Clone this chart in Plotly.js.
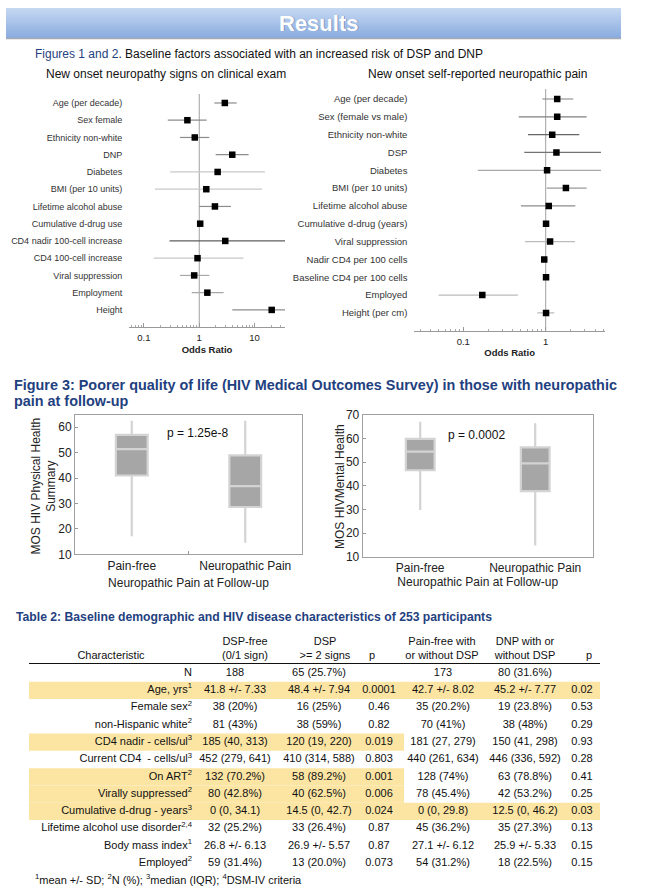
<!DOCTYPE html>
<html><head><meta charset="utf-8">
<script src="https://cdn.plot.ly/plotly-3.0.1.min.js"></script>
<style>html,body{margin:0;padding:0;background:#fff}#chart{width:650px;height:892px}</style>
</head><body><div id="chart"></div>
<script>
// ---------- Figure 1: new onset neuropathy signs (DSP) ----------
const dspFactors = ['Age (per decade)','Sex female','Ethnicity non-white','DNP','Diabetes','BMI (per 10 units)','Lifetime alcohol abuse','Cumulative d-drug use','CD4 nadir 100-cell increase','CD4 100-cell increase','Viral suppression','Employment','Height'];
const dspOR = [2.9, 0.61, 0.83, 3.95, 2.15, 1.34, 1.92, 1.04, 2.95, 0.93, 0.81, 1.40, 20.4];
const dspLo = [1.87, 0.27, 0.45, 1.98, 0.30, 0.158, 1.0, 1.02, 0.29, 0.15, 0.45, 0.73, 3.95];
const dspHi = [4.74, 1.36, 1.52, 7.8, 15.4, 13.6, 3.74, 1.06, 40, 6.3, 1.52, 2.76, 40];

// ---------- Figure 2: new onset self-reported neuropathic pain (DNP) ----------
const dnpFactors = ['Age (per decade)','Sex (female vs male)','Ethnicity non-white','DSP','Diabetes','BMI (per 10 units)','Lifetime alcohol abuse','Cumulative d-drug (years)','Viral suppression','Nadir CD4 per 100 cells','Baseline CD4 per 100 cells','Employed','Height (per cm)'];
const dnpOR = [1.38, 1.38, 1.20, 1.35, 1.04, 1.76, 1.09, 1.01, 1.13, 0.96, 1.01, 0.17, 1.01];
const dnpLo = [0.91, 0.47, 0.61, 0.55, 0.15, 1.03, 0.50, 1.00, 0.56, 0.92, 0.95, 0.05, 0.79];
const dnpHi = [2.16, 3.14, 2.56, 4.69, 4.69, 3.14, 2.29, 1.02, 2.27, 1.05, 1.07, 0.46, 1.27];

// ---------- Figure 3: MOS-HIV box plots ----------
const painGroups = ['Pain-free', 'Neuropathic Pain'];
const physLow = [17.1, 14.5], physQ1 = [41.0, 28.6], physMed = [51.4, 36.8], physQ3 = [57.0, 48.9], physHigh = [62.5, 62.5];
const mentLow = [29.8, 14.7], mentQ1 = [46.6, 37.8], mentMed = [54.5, 49.5], mentQ3 = [59.9, 56.3], mentHigh = [67.1, 66.5];
const physP = 'p = 1.25e-8';
const mentP = 'p = 0.0002';

// ---------- Table 2 ----------
const tableRows = ['N','Age, yrs<sup>1</sup>','Female sex<sup>2</sup>','non-Hispanic white<sup>2</sup>','CD4 nadir - cells/ul<sup>3</sup>','Current CD4  - cells/ul<sup>3</sup>','On ART<sup>2</sup>','Virally suppressed<sup>2</sup>','Cumulative d-drug - years<sup>3</sup>','Lifetime alcohol use disorder<sup>2,4</sup>','Body mass index<sup>1</sup>','Employed<sup>2</sup>'];
const colDspFree = ['188','41.8 +/- 7.33','38 (20%)','81 (43%)','185 (40, 313)','452 (279, 641)','132 (70.2%)','80 (42.8%)','0 (0, 34.1)','32 (25.2%)','26.8 +/- 6.13','59 (31.4%)'];
const colDsp = ['65 (25.7%)','48.4 +/- 7.94','16 (25%)','38 (59%)','120 (19, 220)','410 (314, 588)','58 (89.2%)','40 (62.5%)','14.5 (0, 42.7)','33 (26.4%)','26.9 +/- 5.57','13 (20.0%)'];
const colP1 = ['','0.0001','0.46','0.82','0.019','0.803','0.001','0.006','0.024','0.87','0.87','0.073'];
const colPainFree = ['173','42.7 +/- 8.02','35 (20.2%)','70 (41%)','181 (27, 279)','440 (261, 634)','128 (74%)','78 (45.4%)','0 (0, 29.8)','45 (36.2%)','27.1 +/- 6.12','54 (31.2%)'];
const colDnp = ['80 (31.6%)','45.2 +/- 7.77','19 (23.8%)','38 (48%)','150 (41, 298)','446 (336, 592)','63 (78.8%)','42 (53.2%)','12.5 (0, 46.2)','35 (27.3%)','25.9 +/- 5.33','18 (22.5%)'];
const colP2 = ['','0.02','0.53','0.29','0.93','0.28','0.41','0.25','0.03','0.13','0.15','0.15'];
const headTop = ['', 'DSP-free', 'DSP', '', 'Pain-free with', 'DNP with or', ''];
const headBottom = ['Characteristic', '(0/1 sign)', '>= 2 signs', 'p', 'or without DSP', 'without DSP', 'p'];

// ================= styling / layout =================
const W = 650, H = 892;
const X = px => px / W;
const Y = py => 1 - py / H;
const FONT = 'Liberation Sans, Arial, Helvetica, sans-serif';
const NAVY = '#1f4180';
const dspShades = ['#8c8c8c','#8c8c8c','#8c8c8c','#8c8c8c','#c8c8c8','#c8c8c8','#8c8c8c','#8c8c8c','#5e5e5e','#c8c8c8','#a8a8a8','#a8a8a8','#8c8c8c'];
const dnpShades = ['#808080','#808080','#666666','#737373','#a8a8a8','#999999','#8c8c8c','#888888','#bbbbbb','#bbbbbb','#bbbbbb','#bbbbbb','#bbbbbb'];

function forestTraces(labels, or, lo, hi, shades, xa, ya) {
  return labels.map((lab, i) => ({
    type: 'scatter', mode: 'markers', x: [or[i]], y: [lab], xaxis: xa, yaxis: ya,
    marker: {symbol: 'square', size: 6.5, color: '#000'},
    error_x: {type: 'data', symmetric: false, array: [hi[i] - or[i]], arrayminus: [or[i] - lo[i]],
              color: shades[i], thickness: 1.2, width: 0},
    hoverinfo: 'skip', showlegend: false
  }));
}
function minorLog(kFrom, kTo) {
  const v = [];
  for (let k = kFrom; k <= kTo; k++) for (let d = 2; d <= 9; d++) v.push(Number((d * Math.pow(10, k)).toPrecision(3)));
  return v;
}

const traces = [];
traces.push(...forestTraces(dspFactors, dspOR, dspLo, dspHi, dspShades, 'x', 'y'));
traces.push(...forestTraces(dnpFactors, dnpOR, dnpLo, dnpHi, dnpShades, 'x2', 'y2'));

const boxStyle = {type: 'box', boxpoints: false, fillcolor: '#a6a6a6', line: {color: '#d3d3d3', width: 2.2},
                  whiskerwidth: 0, hoverinfo: 'skip', showlegend: false};
traces.push(Object.assign({}, boxStyle, {x: painGroups, lowerfence: physLow, q1: physQ1, median: physMed,
  q3: physQ3, upperfence: physHigh, width: 0.28, xaxis: 'x3', yaxis: 'y3'}));
traces.push(Object.assign({}, boxStyle, {x: painGroups, lowerfence: mentLow, q1: mentQ1, median: mentMed,
  q3: mentQ3, upperfence: mentHigh, width: 0.25, xaxis: 'x4', yaxis: 'y4'}));

// ---- table (drawn on a hidden pixel-scaled axis pair) ----
const rowTop = 673, rowStep = 17.3;
const rowY = tableRows.map((_, k) => rowTop + rowStep * k);
const labelRight = 192;
const colCenters = [235, 319, 379, 443, 525, 582];
const headCenters = [111, 245, 325, 372, 442, 525, 589];
const bandLeft = [29, 404], bandRight = [404, 600];
const HILITE = '#fce5a3';
const sig = p => p !== '' && parseFloat(p) < 0.05;
const leftRows = rowY.filter((_, k) => sig(colP1[k]));
const rightRows = rowY.filter((_, k) => sig(colP2[k]));
traces.push({type: 'bar', orientation: 'h', y: leftRows, x: leftRows.map(() => bandLeft[1] - bandLeft[0]),
  base: bandLeft[0], width: rowStep, marker: {color: HILITE, line: {width: 0}}, xaxis: 'x5', yaxis: 'y5', hoverinfo: 'skip', showlegend: false});
traces.push({type: 'bar', orientation: 'h', y: rightRows, x: rightRows.map(() => bandRight[1] - bandRight[0]),
  base: bandRight[0], width: rowStep, marker: {color: HILITE, line: {width: 0}}, xaxis: 'x5', yaxis: 'y5', hoverinfo: 'skip', showlegend: false});

const tFont = {family: FONT, size: 11, color: '#111'};
function textTrace(xs, ys, texts, pos) {
  const keep = texts.map((t, i) => i).filter(i => texts[i] !== '');
  return {type: 'scatter', mode: 'text', x: keep.map(i => xs[i]), y: keep.map(i => ys[i]), text: keep.map(i => texts[i]),
    textposition: pos, textfont: tFont, xaxis: 'x5', yaxis: 'y5', hoverinfo: 'skip', showlegend: false};
}
traces.push(textTrace(rowY.map(() => labelRight), rowY, tableRows, 'middle left'));
[colDspFree, colDsp, colP1, colPainFree, colDnp, colP2].forEach((col, j) => {
  traces.push(textTrace(rowY.map(() => colCenters[j]), rowY, col, 'middle center'));
});
traces.push(textTrace(headCenters, headCenters.map(() => 642.7), headTop, 'middle center'));
traces.push(textTrace(headCenters, headCenters.map(() => 656.7), headBottom, 'middle center'));

// ---- axes ----
const forestX = (dom, range, vals, minor, anchor) => ({
  domain: dom, anchor: anchor, type: 'log', range: range, showline: true, linecolor: '#999', linewidth: 1,
  ticks: 'inside', ticklen: 4, tickcolor: '#999', tickmode: 'array', tickvals: vals, ticktext: vals.map(String),
  minor: {ticks: 'inside', ticklen: 2, tickcolor: '#aaa', tickmode: 'array', tickvals: minor},
  tickfont: {size: 9.5, color: '#222'}, ticklabelstandoff: 2, showgrid: false, zeroline: false, fixedrange: true,
  title: {text: '<b>Odds Ratio</b>', font: {size: 9.5, color: '#222'}, standoff: 3}
});
const forestY = (dom, cats, range, anchor, fs) => ({
  domain: dom, anchor: anchor, type: 'category', categoryorder: 'array', categoryarray: cats, range: range,
  showline: false, showgrid: false, zeroline: false, ticks: 'outside', ticklen: 4, tickcolor: 'rgba(0,0,0,0)',
  tickfont: {size: fs, color: '#333'}, fixedrange: true
});
const boxX = (dom, anchor, standoff, ticks) => ({
  domain: dom, anchor: anchor, type: 'category', range: [-0.5, 1.5], showline: true, mirror: true,
  linecolor: '#a0a0a0', ticks: ticks, tickson: 'boundaries', ticklen: 3, tickcolor: '#999',
  tickfont: {size: 12, color: '#222'}, showgrid: false, fixedrange: true,
  title: {text: 'Neuropathic Pain at Follow-up', font: {size: 12, color: '#222'}, standoff: standoff}
});
const boxY = (dom, anchor, range) => ({
  domain: dom, anchor: anchor, range: range, dtick: 10, tick0: 0, showline: true, mirror: true,
  linecolor: '#a0a0a0', ticks: 'inside', ticklen: 3, tickcolor: '#999', tickfont: {size: 12, color: '#222'},
  showgrid: false, zeroline: false, fixedrange: true
});

const bannerSvg = '<svg xmlns="http://www.w3.org/2000/svg" width="615" height="30"><defs>' +
  '<linearGradient id="g" x1="0" y1="0" x2="0" y2="1"><stop offset="0" stop-color="#c6d8f2"/>' +
  '<stop offset="1" stop-color="#89abdf"/></linearGradient></defs><rect width="615" height="30" fill="url(#g)"/></svg>';

const ann = (px, py, text, opts) => Object.assign({xref: 'paper', yref: 'paper', x: X(px), y: Y(py), text: text,
  showarrow: false, xanchor: 'left', yanchor: 'middle', align: 'left', font: {family: FONT, size: 12, color: '#111'}}, opts || {});

const layout = {
  width: W, height: H, margin: {l: 0, r: 0, t: 0, b: 0}, paper_bgcolor: '#fff', plot_bgcolor: 'rgba(0,0,0,0)',
  font: {family: FONT, color: '#222'}, showlegend: false, hovermode: false, barmode: 'overlay',
  xaxis: forestX([X(129), X(285)], [-1.27, 1.55], [0.1, 1, 10], minorLog(-2, 1), 'y'),
  yaxis: forestY([Y(327), Y(94)], dspFactors, [12.99, -0.52], 'x', 9),
  xaxis2: forestX([X(414.3), X(605)], [-1.595, 0.72], [0.1, 1], minorLog(-2, 0), 'y2'),
  yaxis2: forestY([Y(330.7), Y(89)], dnpFactors, [13.0, -0.56], 'x2', 9.5),
  xaxis3: boxX([X(75), X(302)], 'y3', 6, 'inside'),
  yaxis3: boxY([Y(554.3), Y(415)], 'x3', [10, 64.8]),
  xaxis4: boxX([X(362.7), X(592.7)], 'y4', 2, ''),
  yaxis4: boxY([Y(556.7), Y(415)], 'x4', [10, 70]),
  xaxis5: {domain: [0, 1], range: [0, W], anchor: 'y5', visible: false, fixedrange: true},
  yaxis5: {domain: [0, Y(628)], range: [H, 628], anchor: 'x5', visible: false, fixedrange: true},
  images: [{source: 'data:image/svg+xml;base64,' + btoa(bannerSvg), xref: 'paper', yref: 'paper',
    x: X(6), y: Y(8), sizex: 615 / W, sizey: 30 / H, sizing: 'stretch', xanchor: 'left', yanchor: 'top', layer: 'below'}],
  shapes: [
    {type: 'line', xref: 'paper', yref: 'paper', x0: X(6), x1: X(621), y0: Y(38.5), y1: Y(38.5), line: {color: '#a4a9b2', width: 1.5}},
    {type: 'line', xref: 'x', yref: 'y domain', x0: 1, x1: 1, y0: 0, y1: 1, line: {color: '#a0a0a0', width: 1}, layer: 'below'},
    {type: 'line', xref: 'x2', yref: 'y2 domain', x0: 1, x1: 1, y0: 0, y1: 1, line: {color: '#a0a0a0', width: 1}, layer: 'below'},
    {type: 'line', xref: 'x5', yref: 'y5', x0: 29, x1: 600, y0: 663.5, y1: 663.5, line: {color: '#111', width: 1}}
  ],
  annotations: [
    ann(319, 24, '<b>Results</b>', {xanchor: 'center', font: {family: FONT, size: 22, color: 'rgba(70,90,130,0.45)'}}),
    ann(318, 23, '<b>Results</b>', {xanchor: 'center', font: {family: FONT, size: 22, color: '#ffffff'}}),
    ann(33, 54, '<span style="color:' + NAVY + '">Figures 1 and 2</span>. Baseline factors associated with an increased risk of DSP and DNP'),
    ann(44, 74, 'New onset neuropathy signs on clinical exam'),
    ann(366, 74, 'New onset self-reported neuropathic pain'),
    ann(12, 385, '<b>Figure 3: Poorer quality of life (HIV Medical Outcomes Survey) in those with neuropathic</b>',
      {font: {family: FONT, size: 14.4, color: NAVY}}),
    ann(12, 401, '<b>pain at follow-up</b>', {font: {family: FONT, size: 14.4, color: NAVY}}),
    ann(43.5, 486, 'MOS HIV Physical Health<br>Summary', {xanchor: 'center', align: 'center', textangle: -90,
      font: {family: FONT, size: 12, color: '#222'}}),
    ann(340, 487, 'MOS HIVMental Health', {xanchor: 'center', align: 'center', textangle: -90,
      font: {family: FONT, size: 12, color: '#222'}}),
    ann(197, 433, physP, {xanchor: 'center'}),
    ann(476, 435, mentP, {xanchor: 'center'}),
    ann(13.5, 617, '<b>Table 2: Baseline demographic and HIV disease characteristics of 253 participants</b>',
      {font: {family: FONT, size: 12.2, color: NAVY}}),
    ann(33, 879, '<sup>1</sup>mean +/- SD; <sup>2</sup>N (%); <sup>3</sup>median (IQR); <sup>4</sup>DSM-IV criteria',
      {font: {family: FONT, size: 11, color: '#111'}})
  ]
};

Plotly.newPlot('chart', traces, layout, {staticPlot: true, displayModeBar: false});
</script>
</body></html>
